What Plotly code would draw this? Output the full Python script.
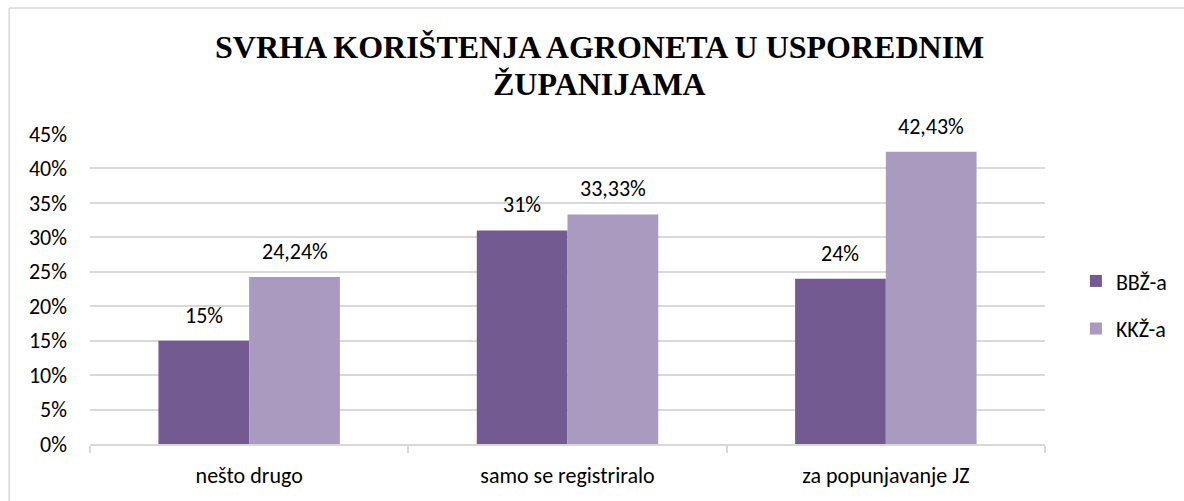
import plotly.graph_objects as go

categories = ["nešto drugo", "samo se registriralo", "za popunjavanje JZ"]
series_names = ["BBŽ-a", "KKŽ-a"]
bbz_values = [0.15, 0.31, 0.24]
kkz_values = [0.2424, 0.3333, 0.4243]
bbz_labels = ["15%", "31%", "24%"]
kkz_labels = ["24,24%", "33,33%", "42,43%"]
y_ticks = [0, 0.05, 0.10, 0.15, 0.20, 0.25, 0.30, 0.35, 0.40, 0.45]
y_tick_labels = ["0%", "5%", "10%", "15%", "20%", "25%", "30%", "35%", "40%", "45%"]
title_lines = ["SVRHA KORIŠTENJA AGRONETA U USPOREDNIM", "ŽUPANIJAMA"]

FONT = "Carlito, Calibri, Lato, sans-serif"
SERIF = "'Liberation Serif', 'Times New Roman', serif"
COLORS = ["#735A90", "#A99ABF"]
FS = 22

# plot area geometry (pixels)
PL, PR, PT, PB = 90, 1048, 134, 446.5
W, H = 1184, 501
plot_w = PR - PL
plot_h = PB - PT
bargap = 0.43
bar_px = plot_w / len(categories) * (1 - bargap) / 2


def py(pix_y):
    return (PB - pix_y) / plot_h


def px(pix_x):
    return (pix_x - PL) / plot_w


fig = go.Figure()
for i, (name, vals) in enumerate(zip(series_names, [bbz_values, kkz_values])):
    fig.add_trace(go.Bar(
        name=name, x=categories, y=vals, marker_color=COLORS[i],
        marker_line_width=0, legendgroup=name, hoverinfo="x+y",
    ))

annotations = []
for i, labels in enumerate([bbz_labels, kkz_labels]):
    vals = [bbz_values, kkz_values][i]
    shift = (-0.5 if i == 0 else 0.5) * bar_px
    for cat, v, lab in zip(categories, vals, labels):
        annotations.append(dict(
            x=cat, y=v, xref="x", yref="y", text=lab, showarrow=False,
            xanchor="center", yanchor="bottom", xshift=shift, yshift=10,
            font=dict(family=FONT, size=FS, color="#000000"),
        ))

title_y = [46, 84]
for line, ty in zip(title_lines, title_y):
    annotations.append(dict(
        x=px(601), y=py(ty), xref="paper", yref="paper", text=f"<b>{line}</b>",
        showarrow=False, xanchor="center", yanchor="middle",
        font=dict(family=SERIF, size=32, color="#000000"),
    ))

fig.update_layout(
    width=W, height=H,
    barmode="group", bargap=bargap, bargroupgap=0,
    paper_bgcolor="white", plot_bgcolor="white",
    margin=dict(l=PL, r=W - PR, t=PT, b=H - PB),
    font=dict(family=FONT, size=FS, color="#000000"),
    annotations=annotations,
    legend=dict(
        x=px(1079), xanchor="left", y=py(306.5), yanchor="middle",
        font=dict(family=FONT, size=FS), traceorder="grouped",
        itemwidth=30, tracegroupgap=16,
    ),
    showlegend=True,
    shapes=[
        dict(type="line", xref="paper", yref="paper",
             x0=px(9), x1=px(9), y0=py(520), y1=py(7),
             line=dict(color="#D9D9D9", width=1.5)),
        dict(type="line", xref="paper", yref="paper",
             x0=px(9), x1=px(1200), y0=py(7), y1=py(7),
             line=dict(color="#D9D9D9", width=1.5)),
    ],
)
fig.update_yaxes(
    range=[0, 0.45], tickvals=y_ticks, ticktext=y_tick_labels,
    showgrid=True, gridcolor="#D9D9D9", gridwidth=1.5,
    zeroline=False, showline=False, ticks="", ticklabelstandoff=22,
    tickfont=dict(family=FONT, size=FS),
)
fig.update_xaxes(
    showline=True, linecolor="#D9D9D9", linewidth=1.5,
    ticks="outside", tickson="boundaries", ticklen=7, tickcolor="#D9D9D9", tickwidth=1.5,
    ticklabelstandoff=11,
    tickfont=dict(family=FONT, size=FS),
)

fig.write_html("out.html", config={"displayModeBar": False},
               post_script="document.body.style.margin='0';document.body.style.overflow='hidden';")
